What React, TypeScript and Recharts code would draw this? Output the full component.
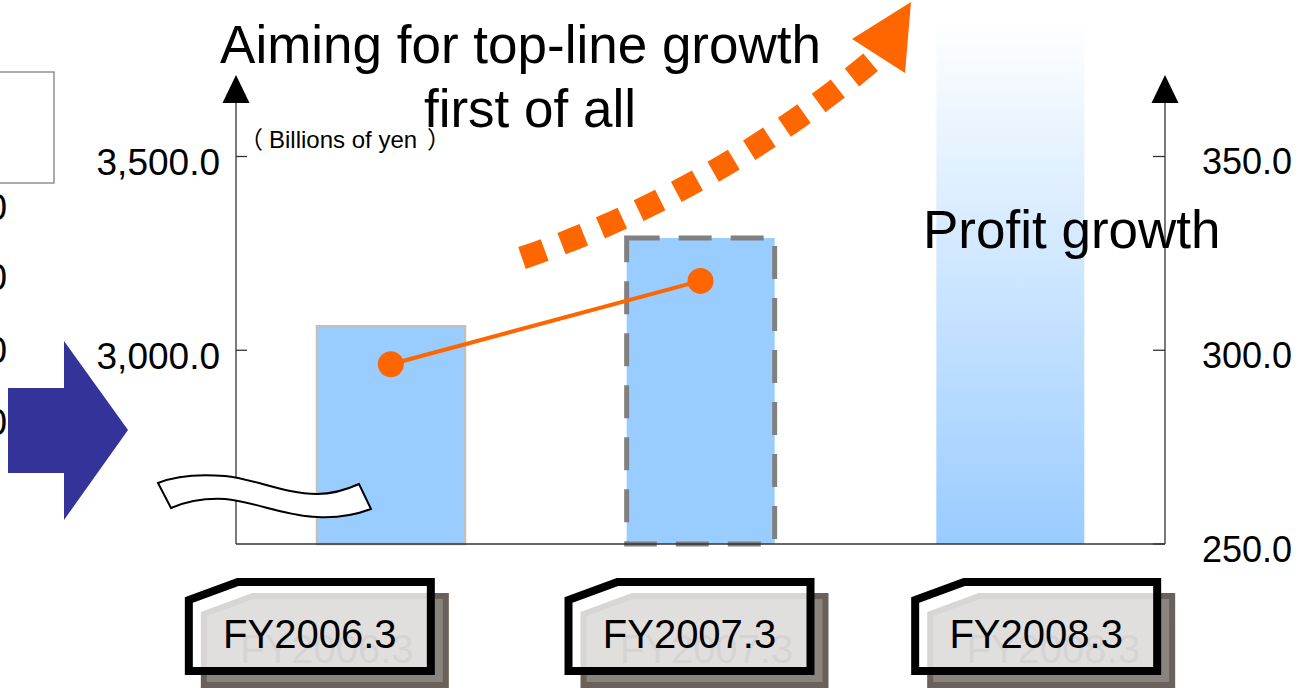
import React from 'react';
import { ComposedChart, Bar, Line, XAxis, YAxis, Cell } from 'recharts';

// ---- data ----
const categories = ['FY2006.3', 'FY2007.3', 'FY2008.3'];
const netSales = [3062, 3290, null]; // billions of yen (left axis)
const salesOutlook = [null, null, 3700]; // outlook bar (gradient, open-ended)
const operatingIncome = [296.4, 317.9, null]; // right axis
const leftTicks = [3000, 3500];
const rightTicks = [250, 300, 350];
const boundaryTicks = [1, 2];

const data = categories.map((fy, i) => ({
  fy,
  sales: netSales[i],
  outlook: salesOutlook[i],
  income: operatingIncome[i],
}));

// ---- styles ----
const FONT = '"Liberation Sans", Arial, Helvetica, "Noto Sans CJK JP", sans-serif';
const W = 1303;
const H = 695;
const labelShift = [-81, -11, 26];
const barStyles = [
  { fill: '#99ccff', stroke: '#c0c0c0', strokeWidth: 2.5 },
  { fill: '#99ccff', stroke: '#808080', strokeWidth: 5, strokeDasharray: '33 19' },
  { fill: 'none' },
];
const fmt1 = (v: number) =>
  Number(v).toLocaleString('en-US', { minimumFractionDigits: 1, maximumFractionDigits: 1 });

const LeftTick = (p: any) => (
  <text x={p.x} y={p.y + 5} dy="0.36em" textAnchor="end" fontSize={37} fontFamily={FONT} fill="#000">
    {fmt1(p.payload.value)}
  </text>
);

const RightTick = (p: any) => (
  <text x={p.x} y={p.y + 5} dy="0.36em" textAnchor="start" fontSize={36} fontFamily={FONT} fill="#000">
    {fmt1(p.payload.value)}
  </text>
);

const shapePts: [number, number][] = [
  [-121, 18],
  [-72, 0],
  [121, 0],
  [121, 89],
  [-121, 89],
];

const CategoryTick = (p: any) => {
  const i = p.index ?? 0;
  const cx = p.x + (labelShift[i] ?? 0);
  const ty = p.y + 38;
  const pts = (dx: number, dy: number) =>
    shapePts.map(([a, b]) => `${cx + a + dx},${ty + b + dy}`).join(' ');
  const label = p.payload.value;
  return (
    <g>
      <polygon points={pts(15, 14)} fill="#8a847e" stroke="#6a625a" strokeWidth={6} />
      <text x={cx + 17} y={ty + 81} textAnchor="middle" fontSize={40} fontFamily={FONT} fill="#5a5a5a">
        {label}
      </text>
      <polygon points={pts(0, 0)} fill="rgba(255,255,255,0.74)" stroke="#000" strokeWidth={8} />
      <text x={cx} y={ty + 66} textAnchor="middle" fontSize={40} fontFamily={FONT} fill="#000">
        {label}
      </text>
    </g>
  );
};

const OutlookShape = (p: any) => {
  if (p.payload == null || p.payload.outlook == null || !p.width) return <g />;
  return (
    <rect x={p.x} y={p.y - 59} width={p.width} height={p.height + 59} fill="url(#outlookGrad)" />
  );
};

const EmptyTick = () => <g />;

const axisStroke = { stroke: '#333', strokeWidth: 1.3 };

export default function App() {
  return (
    <div style={{ position: 'absolute', left: 0, top: 0, width: W, height: H, background: '#fff' }}>
      <svg width={0} height={0} style={{ position: 'absolute' }}>
        <defs>
          <linearGradient id="outlookGrad" x1="0" y1="0" x2="0" y2="1">
            <stop offset="0" stopColor="#ffffff" />
            <stop offset="1" stopColor="#99ccff" />
          </linearGradient>
        </defs>
      </svg>
      <ComposedChart
        width={W}
        height={H}
        data={data}
        margin={{ top: 79, right: 8, bottom: 0, left: 96 }}
      >
        <XAxis
          xAxisId="g"
          type="number"
          domain={[0, 3]}
          ticks={boundaryTicks}
          allowDataOverflow
          interval={0}
          height={0}
          axisLine={false}
          tickSize={-10}
          tickLine={axisStroke}
          tick={EmptyTick}
        />
        <XAxis
          xAxisId="a"
          dataKey="fy"
          height={151}
          interval={0}
          axisLine={axisStroke}
          tickLine={false}
          tickSize={0}
          tickMargin={0}
          tick={CategoryTick}
        />
        <XAxis xAxisId="b" dataKey="fy" hide />
        <YAxis
          yAxisId="left"
          orientation="left"
          width={140}
          domain={[2500, 3700]}
          ticks={leftTicks}
          interval={0}
          axisLine={axisStroke}
          tickLine={axisStroke}
          tickSize={-11}
          tickMargin={27}
          tick={LeftTick}
        />
        <YAxis
          yAxisId="right"
          orientation="right"
          width={130}
          domain={[250, 370]}
          ticks={rightTicks}
          interval={0}
          axisLine={axisStroke}
          tickLine={axisStroke}
          tickSize={-12}
          tickMargin={49}
          tick={RightTick}
        />
        <Bar xAxisId="b" yAxisId="left" dataKey="outlook" barSize={148} isAnimationActive={false} shape={OutlookShape} />
        <Bar xAxisId="a" yAxisId="left" dataKey="sales" barSize={148} isAnimationActive={false}>
          {data.map((d, i) => (
            <Cell key={d.fy} {...barStyles[i]} />
          ))}
        </Bar>
        <Line
          xAxisId="a"
          yAxisId="right"
          dataKey="income"
          stroke="#ff6600"
          strokeWidth={4}
          dot={{ r: 13, fill: '#ff6600', stroke: 'none' }}
          activeDot={false}
          isAnimationActive={false}
        />
      </ComposedChart>

      <svg
        width={W}
        height={H}
        style={{ position: 'absolute', left: 0, top: 0, pointerEvents: 'none' }}
      >
        {/* axis arrowheads */}
        <polygon points="236,75 222.5,103 249.5,103" fill="#000" />
        <polygon points="1165,75 1151.5,103 1178.5,103" fill="#000" />

        {/* left side leftovers */}
        <rect x={-1} y={72} width={55} height={111} fill="none" stroke="#808080" strokeWidth={1.3} />
        {[220, 290, 363, 435].map((y) => (
          <text key={y} x={7} y={y} textAnchor="end" fontSize={37} fontFamily={FONT} fill="#000">
            0
          </text>
        ))}
        <polygon points="8,388 64,388 64,341 128,430 64,520 64,473 8,473" fill="#333399" />

        {/* axis break symbol */}
        <path
          d="M158,483 C175,476 200,474 225,476 C255,479 285,494 317,494 C335,494 348,489 359,484 L371,509 C355,515 335,518 317,517 C285,516 255,502 225,499 C205,498 185,502 171,508 Z"
          fill="#fff"
          stroke="#000"
          strokeWidth={2}
        />

        {/* unit */}
        <text y={148} fontSize={24} fontFamily={FONT} fill="#000">
          <tspan x={239}>（</tspan>
          <tspan x={269}>Billions of yen</tspan>
          <tspan x={427}>）</tspan>
        </text>

        {/* dotted growth arrow */}
        <path d="M522,258 Q720,190 878,56" fill="none" stroke="#ff6600" strokeWidth={23} strokeDasharray="24 18" />
        <polygon points="852,39 911,2 905,73" fill="#ff6600" />

        {/* annotations */}
        <text x={520.5} y={63} textAnchor="middle" fontSize={53} fontFamily={FONT} fill="#000">
          Aiming for top-line growth
        </text>
        <text x={530} y={127} textAnchor="middle" fontSize={53} fontFamily={FONT} fill="#000">
          first of all
        </text>
        <text x={923} y={248} fontSize={53} fontFamily={FONT} fill="#000">
          Profit growth
        </text>
      </svg>
    </div>
  );
}
